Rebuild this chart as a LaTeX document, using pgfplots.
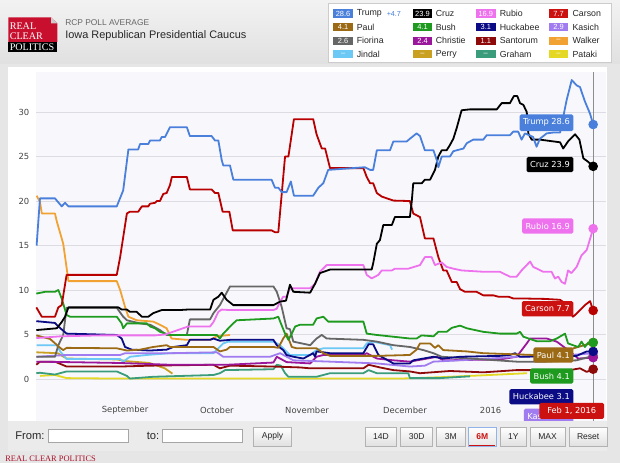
\documentclass[border=0pt]{standalone}
\usepackage{pgfplots}
\pgfplotsset{compat=1.18}
\usepackage{fontspec}
\setmainfont{Liberation Sans}
\newfontfamily\verd{DejaVu Sans}
\newfontfamily\rcpserif{Liberation Serif}

\definecolor{trumpc}{HTML}{4A80DC}
\definecolor{cruzc}{HTML}{000000}
\definecolor{rubioc}{HTML}{EE72EE}
\definecolor{carsonc}{HTML}{B80000}
\definecolor{carsonb}{HTML}{CC1111}
\definecolor{paulc}{HTML}{9C6A14}
\definecolor{bushc}{HTML}{1E9A1E}
\definecolor{huckc}{HTML}{0B0B85}
\definecolor{kasichc}{HTML}{A07CF0}
\definecolor{fiorc}{HTML}{666666}
\definecolor{chrisc}{HTML}{9A169A}
\definecolor{santc}{HTML}{8E0A0A}
\definecolor{walkc}{HTML}{F2A232}
\definecolor{jindc}{HTML}{6CC8F4}
\definecolor{perryc}{HTML}{C9A020}
\definecolor{grahc}{HTML}{3A9C7A}
\definecolor{patac}{HTML}{E4D824}
\definecolor{outerbg}{HTML}{E6E6E6}
\definecolor{plotbg}{HTML}{F8F8FC}
\definecolor{gridc}{HTML}{DCDCE2}
\definecolor{tickc}{HTML}{444444}
\definecolor{rcpred}{HTML}{C8102E}

\newcommand\tickfont{\verd\fontsize{6.3}{7.5}\selectfont}
\newcommand\lblfont{\verd\fontsize{6.2}{7.5}\selectfont}
\newcommand\legfont{\fontsize{6.6}{8}\selectfont}
\newcommand\badgefont{\fontsize{5.6}{6.5}\selectfont}

\begin{document}
\begin{tikzpicture}[x=0.75pt,y=-0.75pt]
% page background and header
\fill[outerbg] (0,0) rectangle (620,463);
\shade[top color=white!95!black, bottom color=white!88!black] (0,0) rectangle (620,64);
% logo
\fill[rcpred] (8.3,17.3) -- (51,17.3) -- (57.3,23.5) -- (57.3,42) -- (8.3,42) -- cycle;
\fill[white!80!black] (51,17.3) -- (51,23.5) -- (57.3,23.5) -- cycle;
\fill[black] (8.3,42) rectangle (57.3,51.7);
\node[anchor=west, inner sep=0, text=white, font=\rcpserif\fontsize{7.6}{8}\selectfont] at (9.5,26.3) {REAL};
\node[anchor=west, inner sep=0, text=white, font=\rcpserif\fontsize{7.6}{8}\selectfont] at (9.5,35.8) {CLEAR};
\node[anchor=west, inner sep=0, text=white, font=\rcpserif\fontsize{7.6}{8}\selectfont] at (9.5,47) {POLITICS};
\node[anchor=west, inner sep=0, text=black!60, font=\fontsize{6.3}{7}\selectfont] at (65,22.5) {RCP POLL AVERAGE};
\node[anchor=west, inner sep=0, text=black!85, font=\fontsize{8.2}{9}\selectfont] at (65,35.5) {Iowa Republican Presidential Caucus};

% legend box
\fill[white, draw=black!20, line width=0.6pt] (328.3,3.3) rectangle (611.7,62.7);
\foreach \bx/\nx/\by/\val/\name/\col in {
  333.3/356.5/13.7/28.6/Trump/trumpc, 412.7/435.5/13.7/23.9/Cruz/cruzc,
  476/499.5/13.7/16.9/Rubio/rubioc, 548.7/572.3/13.7/7.7/Carson/carsonb,
  333.3/356.5/27.2/4.1/Paul/paulc, 412.7/435.5/27.2/4.1/Bush/bushc,
  476/499.5/27.2/3.1/Huckabee/huckc, 548.7/572.3/27.2/2.9/Kasich/kasichc,
  333.3/356.5/40.8/2.6/Fiorina/fiorc, 412.7/435.5/40.8/2.4/Christie/chrisc,
  476/499.5/40.8/1.1/Santorum/santc, 548.7/572.3/40.8/--/Walker/walkc,
  333.3/356.5/54.3/--/Jindal/jindc, 412.7/435.5/54.3/--/Perry/perryc,
  476/499.5/54.3/--/Graham/grahc, 548.7/572.3/54.3/--/Pataki/patac}{
  \fill[\col] (\bx,\by-4.2) rectangle (\bx+19.6,\by+4.2);
  \node[inner sep=0, text=white, font=\badgefont] at (\bx+9.8,\by) {\val};
  \node[anchor=west, inner sep=0, text=black!85, font=\legfont] at (\nx,\by) {\name};
}
\node[anchor=west, inner sep=0, text=trumpc, font=\fontsize{5.4}{6}\selectfont] at (386.5,13.7) {+4.7};

% chart panel
\fill[white] (8,67) rectangle (607,421);

\begin{axis}[
  at={(27pt,-315.75pt)}, anchor=south west,
  scale only axis, width=427.5pt, height=261.75pt,
  xmin=-29.1, xmax=157.2, ymin=-4.72, ymax=34.5,
  axis background/.style={fill=plotbg},
  axis line style={draw=none}, tick style={draw=none},
  ytick={0,5,...,30}, ymajorgrids,
  grid style={draw=gridc, line width=0.75pt},
  xtick={0,30,59.5,91.5,119.5},
  xticklabels={September,October,November,December,2016},
  xticklabel style={anchor=center, yshift=7.9pt, font=\tickfont, text=tickc},
  yticklabel style={font=\tickfont, text=tickc, xshift=-1.5pt, /pgf/number format/assume math mode=true},
  clip=false, no markers,
  every axis plot/.append style={line width=1.35pt, line join=round},
]
% Pataki
\addplot[patac] coordinates {(-27.8,0.35)(-22.9,0.45)(-19.1,0.1)(-2.7,0.05)(89.9,0.05)(102.9,0.2)(116,0.4)(131.4,0.65)};
% Graham
\addplot[grahc] coordinates {(-29,0.65)(-27.8,0.7)(-22.9,0.5)(-19.1,0.85)(-2.7,0.85)(0.6,0.35)(1.6,0.05)(9.2,0.25)(28.9,0.45)(31.0,0.65)(32.7,1.0)(48.5,1.1)(49.6,1.6)(50.9,1.5)(52.3,0.65)(53.4,0.25)(62.6,0.25)(64.8,0.45)(67.0,0.65)(77.9,0.65)(79.6,1.0)(82.3,0.65)(92.6,0.65)(93.1,0.1)(102.9,0.1)(112.7,0.3)};
% Perry
\addplot[perryc] coordinates {(-29,3.0)(-22,2.9)(-19.1,2.3)(-2.7,2.2)(0.6,2.0)(8,1.8)(13,1.2)(15.5,0.6)};
% Jindal
\addplot[jindc] coordinates {(-28.9,3.8)(-22.3,3.8)(-21.2,3.1)(-19.1,2.25)(-1.6,2.25)(-0.6,1.95)(1.6,2.5)(7.1,2.7)(14.7,2.9)(28.9,2.9)(32.1,4.0)(33.8,4.2)(48.5,4.2)(50.7,3.8)(53.9,2.7)(60.5,2.7)(62.6,3.25)(64.8,3.45)(77.9,3.45)(79.0,4.0)(81.1,4.2)(86.6,3.8)(87.3,3.3)};
% Walker
\addplot[walkc] coordinates {(-28.9,20.6)(-27.8,19.9)(-27.2,18.6)(-22.9,18.6)(-22.3,17.7)(-21.2,16.4)(-20.2,15.2)(-19.3,13.0)(-18.5,11.0)(-2.7,11.0)(-1.6,10.0)(0,8.1)(1.1,7.0)(3.8,6.6)(9.2,6.45)(11.4,6.1)(13.6,5.7)(15.2,4.55)(20.2,4.4)(27.8,4.4)(30.0,4.8)(34.3,4.95)};
% Santorum
\addplot[santc] coordinates {(-29,1.6)(-27.8,1.95)(-22.9,1.95)(-19.1,1.4)(-1.6,1.4)(8.2,1.5)(28.9,1.6)(31.0,1.2)(34.3,1.5)(48.5,1.4)(57.2,1.3)(60.5,1.2)(77.9,1.2)(79.6,1.6)(83.3,1.3)(87.7,1.0)(93.1,0.85)(96.4,0.65)(106.2,0.9)(117.1,0.75)(128.0,1.0)(145.4,1.0)(148.7,1.2)(150.9,0.8)(153,1.1)};
% Christie
\addplot[chrisc] coordinates {(-29,1.95)(-19.1,1.9)(-1.6,1.8)(14.7,1.6)(28.9,1.6)(33.2,1.6)(48.5,1.85)(49.6,2.5)(52.8,1.9)(60.5,1.75)(62.6,2.5)(64.8,2.7)(77.9,2.7)(79.0,2.9)(82.3,2.3)(87.7,2.1)(93.1,1.95)(102.0,2.5)(104.0,2.1)(122.5,2.2)(128.0,2.5)(131.3,4.0)(132.4,4.55)(137.8,4.55)(141.1,4.2)(145.4,3.1)(148.1,2.3)(153,2.4)};
% Kasich
\addplot[kasichc] coordinates {(-29,2.5)(-19.1,2.7)(-1.6,2.7)(0,2.9)(14.7,2.9)(30.0,3.0)(32.1,2.5)(47.4,2.5)(50.7,2.9)(55.0,2.1)(67.0,1.95)(82.3,1.75)(93.1,1.4)(98,1.5)(100.8,1.95)(109.5,2.1)(117.1,2.25)(128.0,2.5)(142.2,2.6)(153,2.9)};
% Fiorina
\addplot[fiorc] coordinates {(-29,2.5)(-22.9,2.5)(-21.8,3.8)(-20.2,4.95)(-19.1,8.0)(-2.7,8.0)(-0.6,7.0)(0.6,6.6)(4.9,6.25)(8.2,6.1)(11.4,5.5)(13.6,4.95)(20.2,4.95)(21.2,6.7)(27.8,6.7)(28.9,7.4)(31.0,8.3)(34.3,10.4)(48.5,10.4)(49.6,9.8)(51.2,8.1)(52.8,5.7)(53.9,5.6)(55.0,4.2)(60.5,3.8)(62.6,4.55)(64.3,4.95)(65.9,4.55)(77.9,4.4)(82.3,4.2)(87.7,3.8)(93.1,3.6)(97.5,3.25)(100.8,2.9)(103.5,2.5)(112.7,2.3)(128.0,1.95)(137.3,1.95)(147.6,2.1)(153,2.6)};
% Huckabee
\addplot[huckc] coordinates {(-29,6.5)(-22.9,6.3)(-21.8,5.9)(-19.1,5.1)(-2.7,4.95)(-1.1,4.55)(0,3.6)(2.2,3.3)(8.2,3.2)(13.6,3.3)(15.8,3.6)(20.2,3.8)(21.2,4.4)(27.8,4.4)(28.9,4.55)(31.0,4.3)(34.3,4.4)(48.5,4.4)(49.6,3.8)(51.7,3.25)(52.8,2.7)(55.0,2.5)(58.3,2.3)(61.5,2.9)(62.1,2.5)(62.6,3.1)(67.0,2.9)(77.9,2.9)(79.6,3.9)(81.1,3.9)(82.8,2.7)(87.7,1.75)(93.1,1.75)(94.2,2.1)(100.8,2.5)(104.0,2.3)(109.5,2.5)(122.5,2.6)(125.8,2.7)(127.5,2.9)(129.1,2.5)(147.6,2.6)(150.9,3.1)(153,3.1)};
% Paul
\addplot[paulc] coordinates {(-29,4.9)(-24.5,4.5)(-21.2,3.5)(-20.2,3.25)(-19.1,3.5)(-2.7,3.45)(0.6,3.2)(4.9,3.3)(9.2,3.6)(13.6,3.8)(14.7,3.6)(28.9,3.6)(31.0,3.1)(33.2,3.3)(34.3,3.6)(48.5,3.6)(50.1,3.5)(51.7,4.55)(52.8,5.1)(54.5,3.6)(56.1,3.45)(62.6,3.45)(64.8,2.9)(67.0,2.6)(82.3,2.6)(93.1,2.7)(95.3,3.3)(96.4,4.0)(99.7,4.0)(101.3,3.5)(102.4,3.8)(104.0,3.25)(111.7,3.1)(117.1,2.9)(133.4,2.7)(142.2,3.0)(147.1,3.5)(153,4.1)};
% Bush
\addplot[bushc] coordinates {(-29,9.6)(-26.1,9.8)(-22.9,9.8)(-21.8,10.0)(-20.7,9.05)(-19.1,7.2)(-18.0,7.0)(-2.7,7.0)(-1.1,6.25)(-0.6,5.7)(0.6,6.25)(7.1,6.25)(8.2,5.9)(9.8,5.7)(11.4,5.3)(14.7,4.95)(30.0,4.95)(31.0,4.55)(32.1,5.1)(33.8,5.7)(34.9,6.1)(36.5,6.6)(48.5,6.8)(50.1,7.0)(50.7,6.45)(52.3,5.1)(53.4,4.4)(54.5,5.1)(55.6,5.9)(57.2,6.1)(61.5,6.1)(62.6,6.8)(64.8,7.0)(66.4,6.45)(77.9,6.45)(79.0,5.1)(82.3,4.95)(87.7,4.75)(93.1,4.55)(95.3,4.55)(96.9,4.9)(100.8,4.8)(102.4,5.3)(105.1,5.3)(106.8,5.75)(109.5,6.0)(111.7,5.7)(117.1,5.3)(122.5,5.1)(128.0,5.1)(129.1,5.3)(130.2,4.75)(134.5,4.25)(138.9,4.25)(141.1,4.55)(143.8,5.1)(144.8,4.0)(146.4,3.8)(148.1,3.6)(149.2,4.2)(150.3,3.6)(151.4,4.1)(153,4.1)};
% Carson
\addplot[carsonc] coordinates {(-29,8.05)(-27.2,7.0)(-22.9,7.0)(-21.8,8.05)(-20.7,8.3)(-19.1,11.7)(-2.7,11.7)(-1.6,13.7)(0.6,18.6)(1.6,18.8)(4.3,18.8)(5.5,19.4)(7.6,19.4)(8.2,19.7)(9.8,19.8)(10.4,20.0)(11.4,20.0)(12.5,20.8)(13.6,20.9)(14.7,21.8)(15.3,22.7)(20.2,22.7)(21.2,21.3)(28.3,21.3)(29.4,20.9)(30.5,20.9)(31.9,18.8)(34.1,18.8)(35.2,16.7)(47.9,16.7)(49.0,16.5)(50.1,16.5)(52.3,25.0)(53.4,25.0)(55.2,29.2)(61.5,29.2)(62.6,27.5)(64.3,25.9)(65.4,25.9)(67.0,23.7)(77.9,23.7)(79.0,22.7)(80.1,22.0)(81.1,22.0)(82.3,20.9)(83.9,20.5)(87.7,20.05)(93.1,20.0)(94.2,18.6)(96.4,18.2)(98.0,15.8)(100.8,15.8)(102.4,13.7)(104.0,12.2)(105.1,12.2)(106.8,10.9)(108.4,10.9)(109.5,10.1)(111.1,9.8)(114.9,9.8)(117.1,9.4)(120.4,9.4)(122.0,9.25)(125.3,9.25)(126.9,9.05)(129.6,9.05)(137.3,9.0)(142.2,8.9)(143.8,8.5)(146.4,7.0)(147.1,7.2)(148.7,7.75)(150.3,8.3)(152.0,8.75)(153,7.7)};
% Rubio
\addplot[rubioc] coordinates {(-29,4.6)(-21,4.8)(-8.2,4.9)(0,4.9)(9.8,4.9)(13.1,5.0)(20.6,5.9)(27.8,5.9)(28.9,6.4)(30.5,7.55)(31.6,7.8)(34.3,7.75)(48.5,7.75)(49.6,7.9)(50.7,8.7)(51.7,9.25)(52.8,9.25)(53.9,10.2)(60.5,10.2)(62.1,10.7)(63.7,12.05)(65.9,12.8)(77.9,12.8)(79.0,11.7)(80.6,11.3)(82.8,11.7)(83.9,12.2)(87.2,12.2)(88.2,12.4)(92.6,12.4)(96.4,12.8)(98.0,13.7)(100.2,13.7)(101.3,12.8)(103.5,13.1)(105.1,12.6)(107.3,12.4)(110.0,12.2)(117.1,12.05)(122.5,12.05)(125.8,11.5)(128.0,11.5)(129.6,12.2)(132.4,13.2)(133.4,12.6)(136.7,12.05)(139.4,12.05)(140.5,11.3)(141.6,11.5)(142.7,10.9)(143.8,10.7)(144.8,12.2)(145.9,11.9)(147.6,12.6)(149.2,13.9)(150.9,14.5)(153,16.9)};
% Cruz
\addplot[cruzc] coordinates {(-29,5.5)(-22.3,5.7)(-20.7,6.4)(-19.6,7.0)(-18.5,8.05)(-2.2,8.05)(-1.1,7.8)(0.6,7.8)(1.6,7.55)(3.8,7.55)(5.5,7.0)(7.6,7.0)(9.2,7.4)(12.0,7.75)(18.0,7.75)(20.2,7.8)(27.8,7.8)(28.9,8.9)(30.5,9.25)(31.6,9.7)(33.2,8.9)(35.4,8.3)(48.5,8.3)(50.7,8.7)(52.6,8.8)(53.9,10.6)(55.0,9.8)(60.5,9.7)(62.1,10.7)(63.7,11.9)(67.0,12.3)(80.6,12.3)(81.1,13.0)(82.3,15.2)(83.3,15.6)(84.4,17.3)(87.2,17.3)(88.2,18.2)(93.1,18.2)(93.7,19.9)(94.2,22.0)(97.0,22.0)(98.0,22.4)(99.7,22.4)(101.3,23.5)(102.4,25.0)(103.5,25.7)(105.1,25.7)(106.2,26.3)(107.3,27.0)(108.4,28.2)(110.0,30.2)(112.7,30.3)(121.5,30.3)(123.1,31.0)(125.8,31.0)(127.1,31.8)(128.2,31.8)(129.1,31.0)(130.2,30.8)(131.3,30.0)(131.8,27.6)(132.9,26.9)(135.6,26.9)(142.2,26.6)(143.2,25.9)(144.8,26.7)(147.1,27.5)(148.5,26.9)(149.8,24.8)(151.4,24.4)(153,23.9)};
% Trump
\addplot[trumpc] coordinates {(-28.9,15.0)(-27.8,20.3)(-22.9,20.3)(-20.7,19.4)(-19.6,19.8)(-18.5,19.4)(-2.7,19.4)(-0.6,21.2)(1.1,25.8)(4.3,25.8)(4.9,26.4)(7.6,26.4)(8.2,26.8)(11.4,26.8)(12.0,27.2)(13.1,27.2)(14.7,28.3)(20.2,28.3)(21.2,27.3)(28.3,27.3)(29.4,26.8)(30.5,26.8)(31.6,24.6)(32.1,24.0)(34.3,24.0)(35.4,22.4)(47.9,22.4)(49.0,21.5)(50.1,21.5)(51.2,21.0)(52.8,21.0)(54.2,22.2)(55.2,20.6)(61.5,20.6)(63.2,21.5)(64.8,22.0)(66.4,23.5)(78.4,23.8)(80.1,23.5)(81.1,23.5)(82.3,25.7)(86.6,25.7)(87.7,26.7)(92.1,26.7)(93.1,27.0)(95.3,27.6)(96.4,27.3)(98.0,25.7)(100.8,25.7)(101.9,24.6)(102.4,23.8)(103.5,25.0)(106.2,25.0)(107.3,25.6)(110.6,25.9)(111.7,26.5)(113.8,26.9)(117.1,26.9)(118.2,27.4)(125.8,27.4)(126.9,27.8)(128.5,27.8)(129.6,26.9)(130.7,27.6)(133.4,27.2)(134.5,26.1)(135.6,27.0)(137.8,27.6)(140.0,27.7)(142.2,27.7)(144.3,31.3)(146.0,33.6)(147.6,33.0)(148.7,32.8)(150.3,31.2)(152.0,29.8)(153.0,28.6)};

% crosshair at Feb 1
\draw[black!45, line width=0.7pt] (axis cs:153,-4.72) -- (axis cs:153,34.5);

% end points
\addplot[only marks, mark=*, mark size=2.9pt, santc] coordinates {(153,1.1)};
\addplot[only marks, mark=*, mark size=2.9pt, fiorc] coordinates {(153,2.6)};
\addplot[only marks, mark=*, mark size=2.9pt, kasichc] coordinates {(153,2.9)};
\addplot[only marks, mark=*, mark size=2.9pt, chrisc] coordinates {(153,2.4)};
\addplot[only marks, mark=*, mark size=2.9pt, huckc] coordinates {(153,3.1)};
\addplot[only marks, mark=*, mark size=2.9pt, paulc] coordinates {(153,4.1)};
\addplot[only marks, mark=*, mark size=2.9pt, bushc] coordinates {(153,4.1)};
\addplot[only marks, mark=*, mark size=2.9pt, carsonc] coordinates {(153,7.7)};
\addplot[only marks, mark=*, mark size=2.9pt, rubioc] coordinates {(153,16.9)};
\addplot[only marks, mark=*, mark size=2.9pt, cruzc] coordinates {(153,23.9)};
\addplot[only marks, mark=*, mark size=2.9pt, trumpc] coordinates {(153,28.6)};

% value callouts
\tikzset{callout/.style={anchor=east, text=white, font=\lblfont, rounded corners=1.2pt, inner xsep=2.6pt, minimum height=11.5pt}}
\node[callout, fill=trumpc] at (axis cs:146.6,28.8) {Trump 28.6};
\node[callout, fill=cruzc] at (axis cs:146.6,24.1) {Cruz 23.9};
\node[callout, fill=rubioc] at (axis cs:146.6,17.2) {Rubio 16.9};
\node[callout, fill=carsonb] at (axis cs:146.6,7.9) {Carson 7.7};
\node[callout, fill=paulc] at (axis cs:146.6,2.7) {Paul 4.1};
\node[callout, fill=bushc] at (axis cs:146.6,0.34) {Bush 4.1};
\node[callout, fill=kasichc] at (axis cs:146.6,-4.2) {Kasich 2.9};
\node[callout, fill=huckc] at (axis cs:146.6,-2.0) {Huckabee 3.1};
\node[anchor=center, text=white, font=\lblfont, fill=carsonb, rounded corners=1.2pt, minimum width=48.5pt, minimum height=12pt] at (axis cs:146.0,-3.58) {Feb 1, 2016};
\end{axis}

% bottom control bar
\fill[white!92!black] (8,421) rectangle (607,451);
\node[anchor=west, inner sep=0, text=black!85, font=\fontsize{8.4}{9}\selectfont] at (15,436) {From:};
\draw[black!35, fill=white, line width=0.6pt] (48.3,429.3) rectangle (128.3,442.7);
\node[anchor=west, inner sep=0, text=black!85, font=\fontsize{8.4}{9}\selectfont] at (146.5,436) {to:};
\draw[black!35, fill=white, line width=0.6pt] (162.3,429.3) rectangle (242.3,442.7);
\foreach \xa/\xb/\t in {253.3/291.7/Apply, 365/396.7/14D, 400.7/432.7/30D, 436.7/465/3M, 500/526.7/1Y, 530/565/MAX, 569/607.3/Reset}{
  \shade[top color=white, bottom color=white!88!black, draw=black!30, line width=0.6pt] (\xa,427) rectangle (\xb,446);
  \node[inner sep=0, text=black!85, font=\fontsize{6.4}{7}\selectfont] at ({(\xa+\xb)/2},436.5) {\t};
}
\shade[top color=white, bottom color=white!90!black, draw=trumpc!60, line width=0.6pt] (468.3,427) rectangle (496,446);
\draw[carsonb, line width=1pt] (469,445.5) -- (495.3,445.5);
\node[inner sep=0, text=carsonb, font=\fontsize{6.4}{7}\selectfont\bfseries] at (482.2,436.5) {6M};
\node[anchor=west, inner sep=0, text=rcpred!85!black, font=\rcpserif\fontsize{6.3}{7}\selectfont] at (5,458.5) {REAL CLEAR POLITICS};
\end{tikzpicture}
\end{document}
